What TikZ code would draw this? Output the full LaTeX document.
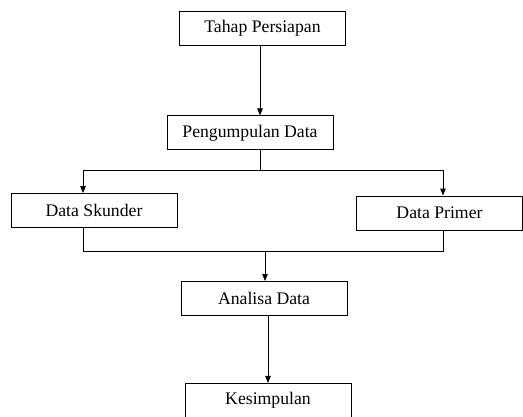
\documentclass[tikz,border=0pt]{standalone}
\usepackage{fontspec}
\setmainfont{Liberation Serif}
\usetikzlibrary{arrows.meta, positioning}

\begin{document}
\begin{tikzpicture}[
    x=1pt, y=1pt,
    node distance=70pt,
    box/.style={
      rectangle, draw, minimum width=166pt, minimum height=34pt,
      inner sep=0pt, align=center, line width=0.9pt,
      font=\fontsize{17.7}{20}\selectfont
    },
    arrow/.style={-{Triangle[length=7pt, width=5.5pt]}, line width=0.9pt},
    link/.style={line width=0.9pt},
]
  \useasboundingbox (0,0) rectangle (523,-416);

  \node[box] (tahap) at (262.5,-28) {Tahap Persiapan};
  \node[box, below=70pt of tahap, xshift=-12.5pt] (kumpul) {Pengumpulan Data};
  \node[box] (skunder) at (94,-210.5) {Data Skunder};
  \node[box] (primer) at (439.5,-213) {Data Primer};
  \node[box] (analisa) at (264,-298.5) {Analisa Data};
  \node[box, below=67pt of analisa, xshift=4pt] (simpul) {Kesimpulan};

  % titik cabang dan titik gabung
  \coordinate (cabang) at (260,-170);
  \coordinate (gabung) at (265,-251);

  \draw[arrow] ([xshift=-2.5pt]tahap.south) -- ([xshift=-2.5pt]tahap.south |- kumpul.north);
  \draw[link] (kumpul.south -| cabang) -- (cabang);
  \draw[arrow] (cabang) -| ([xshift=-11pt]skunder.north);
  \draw[arrow] (cabang) -| ([xshift=3.5pt]primer.north);
  \draw[link] ([xshift=-11pt]skunder.south) |- (gabung);
  \draw[link] ([xshift=3.5pt]primer.south) |- (gabung);
  \draw[arrow] (gabung) -- (gabung |- analisa.north);
  \draw[arrow] (analisa.south -| simpul.north) -- (simpul.north);
\end{tikzpicture}
\end{document}
